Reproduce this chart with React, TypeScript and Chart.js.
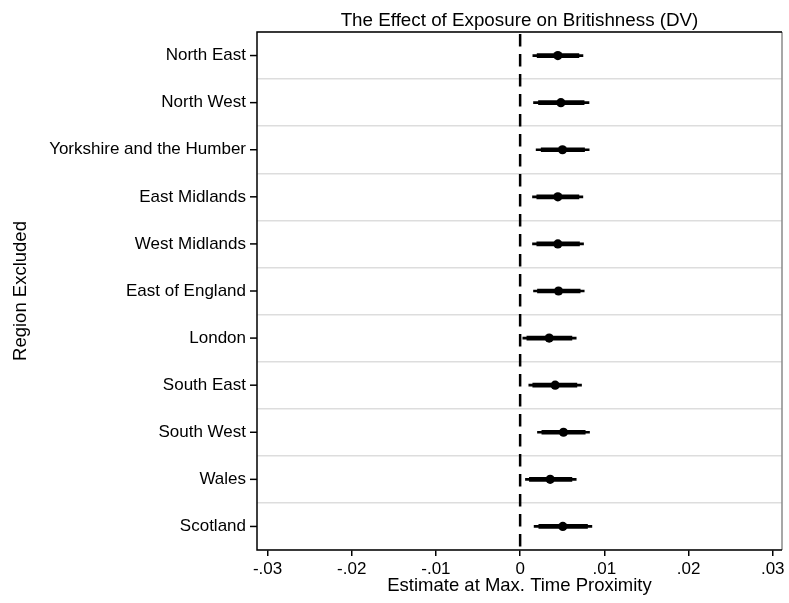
import { useEffect, useRef } from "react";
import { Chart, registerables } from "chart.js";

Chart.register(...registerables);

// Regions left out of each re-estimation, listed top to bottom
const regions = [
  "North East",
  "North West",
  "Yorkshire and the Humber",
  "East Midlands",
  "West Midlands",
  "East of England",
  "London",
  "South East",
  "South West",
  "Wales",
  "Scotland",
];

// Point estimates at maximum time proximity
const estimates = [0.00448, 0.00484, 0.00503, 0.00448, 0.00448, 0.00456, 0.00345, 0.00416, 0.00515, 0.00357, 0.00507];

// Wide (thin line) confidence bounds
const outerLow = [0.00151, 0.00159, 0.0019, 0.00147, 0.00147, 0.00159, 0.00032, 0.00103, 0.00206, 0.00063, 0.00166];
const outerHigh = [0.00746, 0.00818, 0.0082, 0.00745, 0.00753, 0.00761, 0.00666, 0.00729, 0.00824, 0.00666, 0.00852];

// Narrow (thick line) confidence bounds
const innerLow = [0.00202, 0.00218, 0.0025, 0.00198, 0.00198, 0.00206, 0.0008, 0.0015, 0.00258, 0.0011, 0.00222];
const innerHigh = [0.00698, 0.0076, 0.00765, 0.00698, 0.00705, 0.00713, 0.00615, 0.00674, 0.00773, 0.00615, 0.008];

// Horizontal axis ticks and their labels
const xTickValues = [-0.03, -0.02, -0.01, 0, 0.01, 0.02, 0.03];
const xTickLabels = ["-.03", "-.02", "-.01", "0", ".01", ".02", ".03"];

const chartTitle = "The Effect of Exposure on Britishness (DV)";

const FONT = "'Liberation Sans', Arial, Helvetica, sans-serif";

// Title centred over the plot region
const plotTitle = {
  id: "plotTitle",
  afterDraw(chart: any) {
    const { ctx, chartArea } = chart;
    ctx.save();
    ctx.fillStyle = "#000";
    ctx.font = `normal 18.8px ${FONT}`;
    ctx.textAlign = "center";
    ctx.textBaseline = "alphabetic";
    ctx.fillText(chartTitle, (chartArea.left + chartArea.right) / 2, 25.5);
    ctx.restore();
  },
};

// Dashed reference line at zero
const zeroLine = {
  id: "zeroLine",
  beforeDatasetsDraw(chart: any) {
    const { ctx, chartArea, scales } = chart;
    const x = scales.x.getPixelForValue(0);
    ctx.save();
    ctx.strokeStyle = "#000";
    ctx.lineWidth = 2.5;
    ctx.setLineDash([12.5, 7.5]);
    ctx.beginPath();
    ctx.moveTo(x, chartArea.top + 2);
    ctx.lineTo(x, chartArea.bottom);
    ctx.stroke();
    ctx.restore();
  },
};

// Plot frame and category tick marks
const frame = {
  id: "frame",
  afterDatasetsDraw(chart: any) {
    const { ctx, chartArea, scales } = chart;
    const { left, right, top, bottom } = chartArea;
    ctx.save();
    ctx.lineWidth = 1.5;
    ctx.strokeStyle = "#8a8a8a";
    ctx.beginPath();
    ctx.moveTo(right, top);
    ctx.lineTo(right, bottom);
    ctx.stroke();
    ctx.strokeStyle = "#000";
    ctx.beginPath();
    ctx.moveTo(right, top);
    ctx.lineTo(left, top);
    ctx.lineTo(left, bottom);
    ctx.lineTo(right, bottom);
    ctx.stroke();
    regions.forEach((_, i) => {
      const y = scales.y.getPixelForValue(i);
      ctx.beginPath();
      ctx.moveTo(left - 7, y);
      ctx.lineTo(left, y);
      ctx.stroke();
    });
    ctx.restore();
  },
};

export default function App() {
  const ref = useRef<HTMLCanvasElement>(null);

  useEffect(() => {
    document.body.style.margin = "0";
    const canvas = ref.current;
    if (!canvas) return;

    const chart = new Chart(canvas, {
      type: "bar",
      data: {
        labels: regions,
        datasets: [
          {
            type: "line",
            label: "Estimate",
            data: estimates,
            showLine: false,
            pointRadius: 4.6,
            pointBackgroundColor: "#000",
            pointBorderWidth: 0,
            order: 0,
          } as any,
          {
            label: "Narrow interval",
            data: regions.map((_, i) => [innerLow[i], innerHigh[i]]),
            backgroundColor: "#000",
            borderWidth: 0,
            barThickness: 4,
            grouped: false,
            order: 1,
          },
          {
            label: "Wide interval",
            data: regions.map((_, i) => [outerLow[i], outerHigh[i]]),
            backgroundColor: "#000",
            borderWidth: 0,
            barThickness: 2,
            grouped: false,
            order: 2,
          },
        ],
      },
      options: {
        indexAxis: "y",
        responsive: false,
        animation: false,
        devicePixelRatio: 1,
        layout: { padding: { left: 0, right: 7, top: 32, bottom: 0 } },
        plugins: {
          legend: { display: false },
          tooltip: { enabled: false },
          title: { display: false },
        },
        scales: {
          x: {
            type: "linear",
            min: -0.03125,
            max: 0.0311,
            afterBuildTicks(scale: any) {
              scale.ticks = xTickValues.map((v) => ({ value: v }));
            },
            afterFit(scale: any) {
              scale.height = 53;
            },
            ticks: {
              color: "#000",
              font: { family: FONT, size: 17 },
              padding: 3,
              maxRotation: 0,
              autoSkip: false,
              callback: (_v: any, i: number) => xTickLabels[i],
            },
            grid: {
              drawOnChartArea: false,
              drawTicks: true,
              tickLength: 6,
              color: "#000",
              lineWidth: 1.5,
            },
            border: { display: false },
            title: {
              display: true,
              text: "Estimate at Max. Time Proximity",
              color: "#000",
              font: { family: FONT, size: 18.5 },
              padding: { top: 0, bottom: 6.2 },
            },
          },
          y: {
            type: "category",
            afterFit(scale: any) {
              scale.width = 257;
            },
            ticks: {
              color: "#000",
              font: { family: FONT, size: 17 },
              padding: 11,
              autoSkip: false,
            },
            grid: {
              offset: true,
              drawTicks: false,
              color: "#dddddd",
              lineWidth: 1.5,
            },
            border: { display: false },
            title: {
              display: true,
              text: "Region Excluded",
              color: "#000",
              font: { family: FONT, size: 18.5 },
              padding: { top: 9.5, bottom: 0 },
            },
          },
        },
      },
      plugins: [zeroLine, frame, plotTitle],
    });

    return () => chart.destroy();
  }, []);

  return <canvas ref={ref} width={789} height={603} style={{ display: "block" }} />;
}
